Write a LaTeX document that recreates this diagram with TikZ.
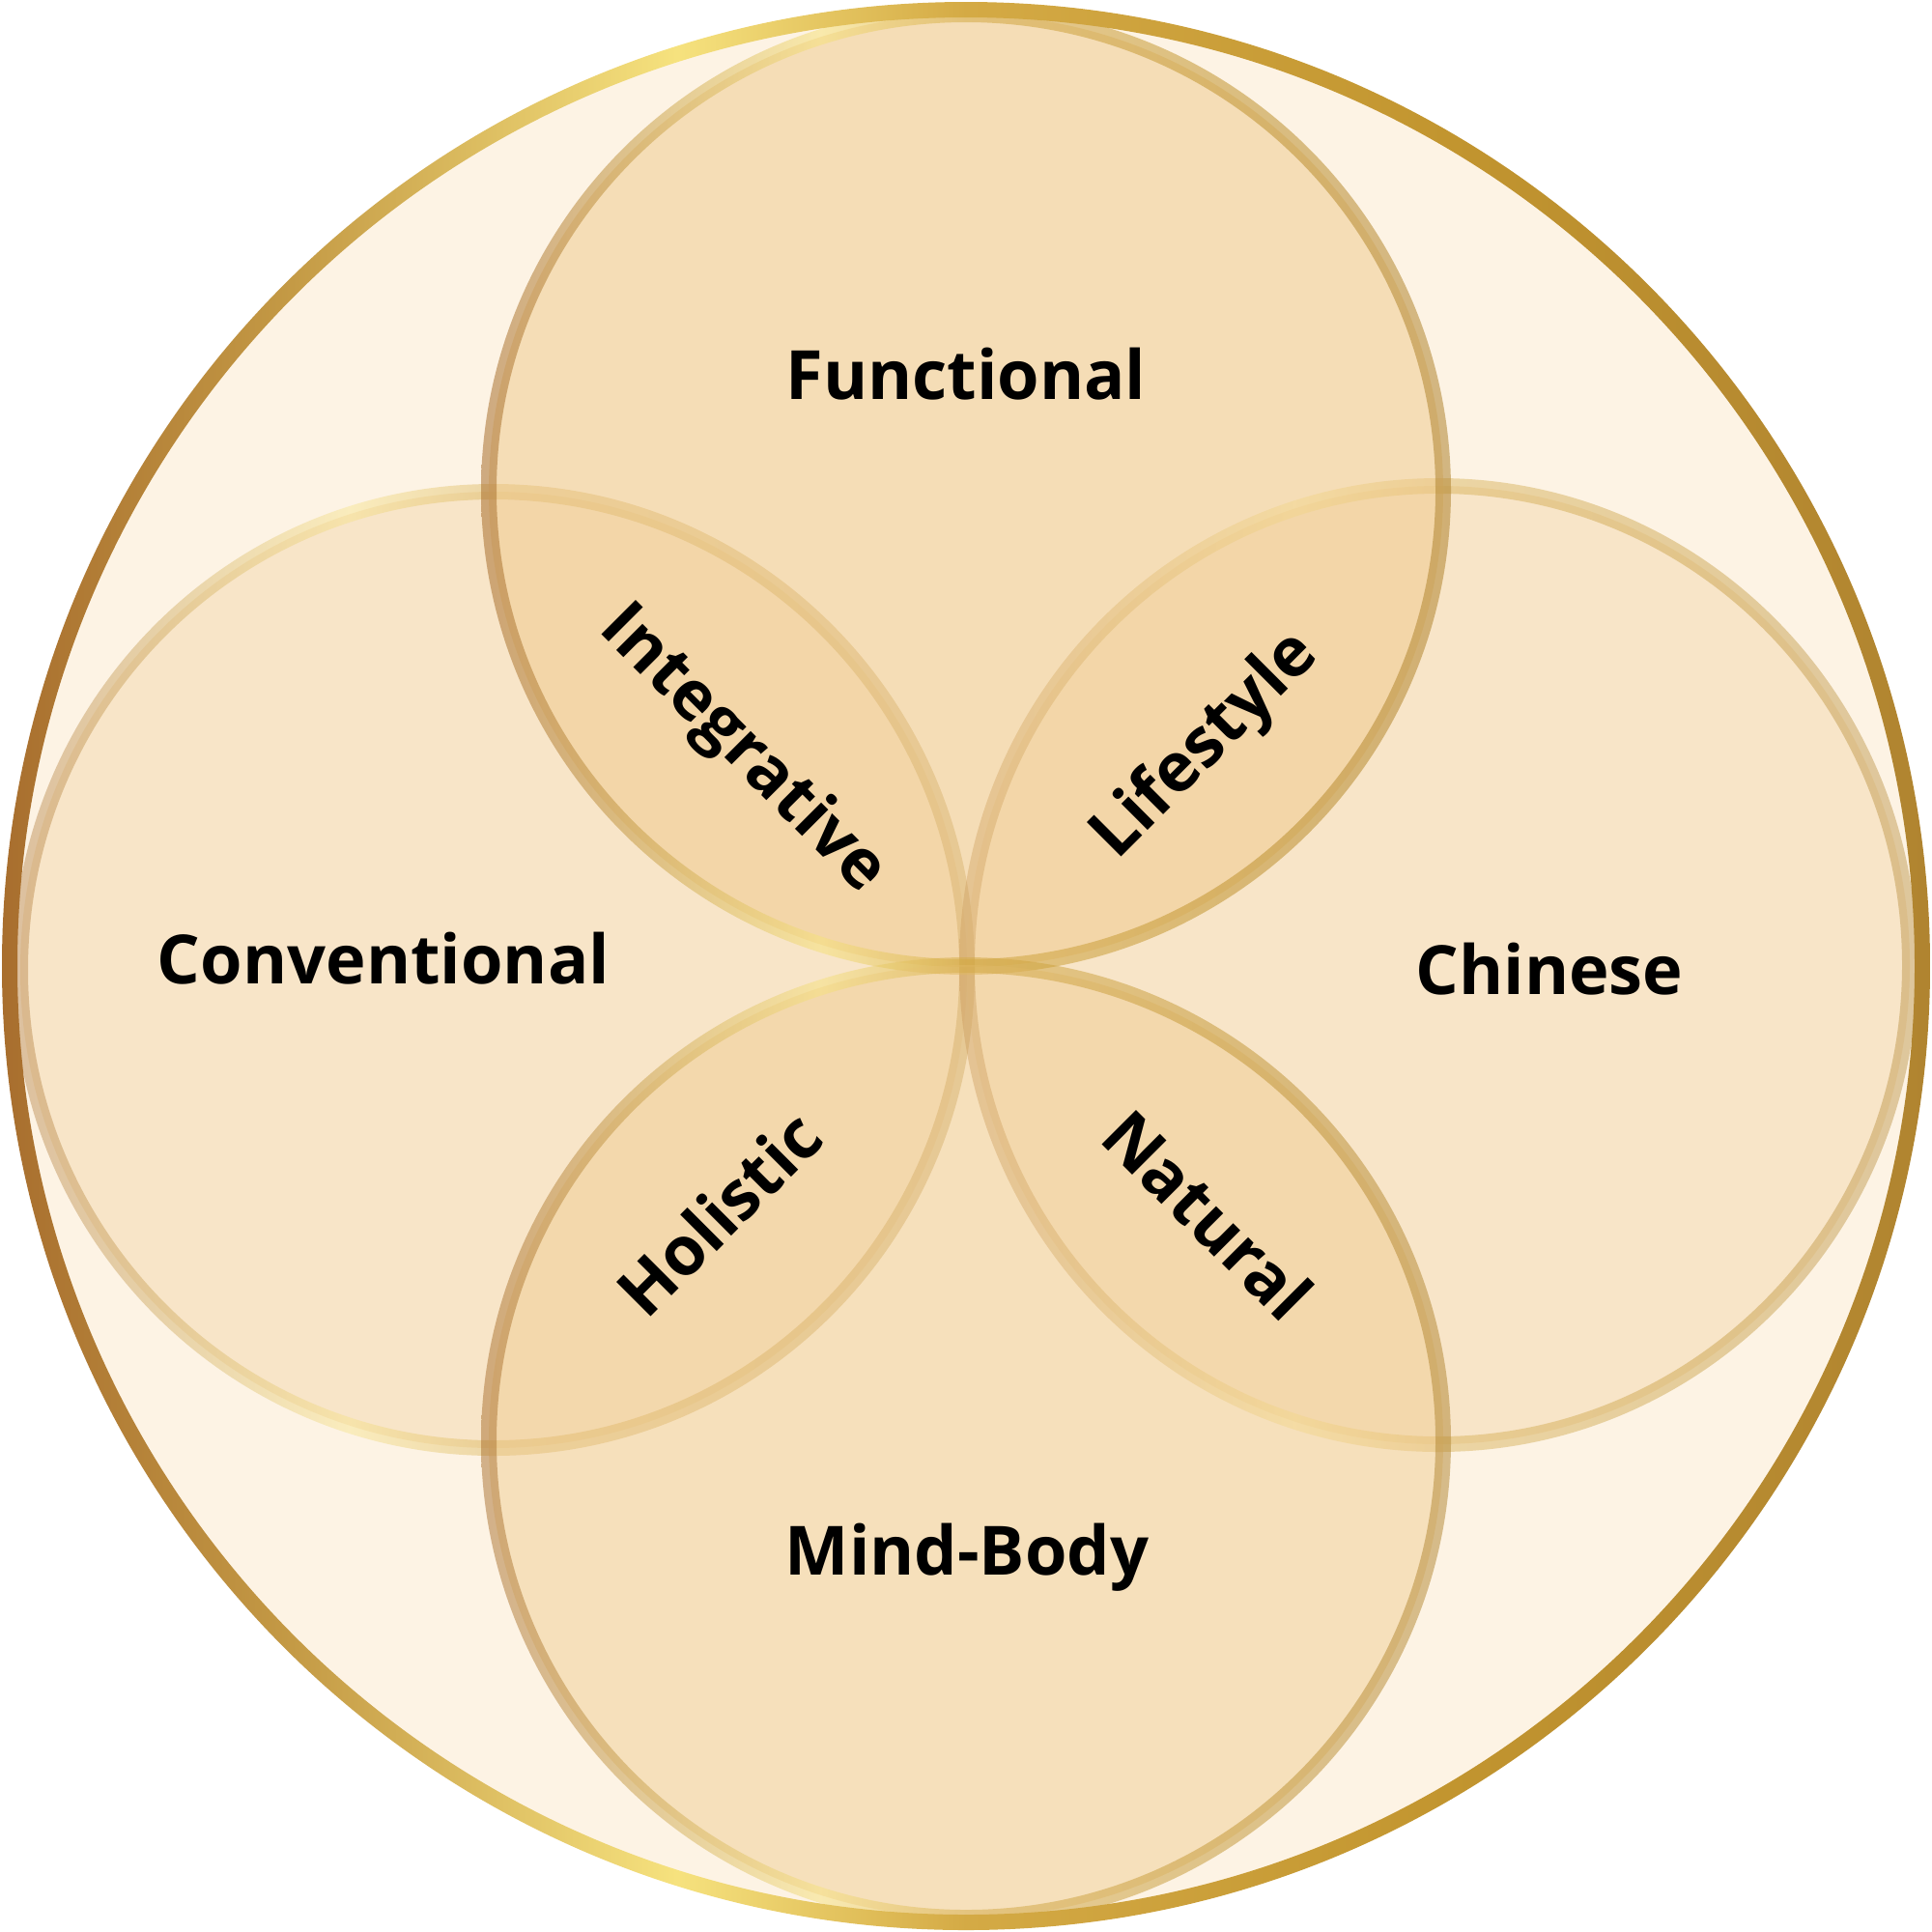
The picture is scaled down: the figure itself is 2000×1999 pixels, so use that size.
\documentclass[tikz,border=0pt]{standalone}
\usepackage{fontspec}
\setmainfont{Open Sans}
\definecolor{gA}{HTML}{A86E2E}
\definecolor{gB}{HTML}{C49A45}
\definecolor{gC}{HTML}{F6E27E}
\definecolor{gD}{HTML}{D4AA45}
\definecolor{gE}{HTML}{C2952F}
\definecolor{gF}{HTML}{B08430}
\definecolor{cream}{HTML}{FDF3E4}
\definecolor{petal}{HTML}{EFC98A}
\pgfdeclarehorizontalshading{goldring}{100bp}{color(0bp)=(gA); color(25bp)=(gA); color(32.5bp)=(gB); color(42.5bp)=(gC); color(50bp)=(gD); color(62.5bp)=(gE); color(75bp)=(gF); color(100bp)=(gF)}
\tikzset{
  lab/.style={font=\fontsize{20}{24}\selectfont\bfseries, text=black, inner sep=0pt},
  baselab/.style={lab, anchor=base},
  rotlab/.style={lab, anchor=center, text height=14.3pt, text depth=0pt},
}
\begin{document}
\begin{tikzpicture}[x=0.01cm,y=-0.01cm]
\useasboundingbox (0,0) rectangle (2000,1999);
% outer disc
\fill[cream] (1000,1000) circle [radius=990];
% left circle
\fill[petal, fill opacity=0.31] (511,1004) ellipse [x radius=490, y radius=495];
\shade[shading=goldring, even odd rule, opacity=0.38] (511,1004) ellipse [x radius=498, y radius=503] (511,1004) ellipse [x radius=482, y radius=487];
% right circle
\fill[petal, fill opacity=0.31] (1489,999) ellipse [x radius=488, y radius=496];
\shade[shading=goldring, even odd rule, opacity=0.4] (1489,999) ellipse [x radius=496, y radius=504] (1489,999) ellipse [x radius=480, y radius=488];
% top circle
\fill[petal, fill opacity=0.5] (1000,508) ellipse [x radius=494, y radius=493];
\shade[shading=goldring, even odd rule, opacity=0.55] (1000,508) ellipse [x radius=502, y radius=501] (1000,508) ellipse [x radius=486, y radius=485];
% bottom circle
\fill[petal, fill opacity=0.45] (1000,1492) ellipse [x radius=494, y radius=493];
\shade[shading=goldring, even odd rule, opacity=0.5] (1000,1492) ellipse [x radius=502, y radius=501] (1000,1492) ellipse [x radius=486, y radius=485];
% outer ring
\shade[shading=goldring, even odd rule] (1000,1000) circle [radius=998] (1000,1000) circle [radius=982];
% labels
\node[baselab] (functional) at (1000,413) {Functional};
\node[baselab] (conventional) at (397,1018) {Conventional};
\node[baselab] (chinese) at (1604,1029) {Chinese};
\node[baselab] (mindbody) at (1001,1630) {Mind-Body};
\node[rotlab, rotate=-45] (integrative) at (773,772) {Integrative};
\node[rotlab, rotate=45] (lifestyle) at (1244,768) {Lifestyle};
\node[rotlab, rotate=45] (holistic) at (745,1257) {Holistic};
\node[rotlab, rotate=-45] (natural) at (1250,1258) {Natural};
\end{tikzpicture}
\end{document}
